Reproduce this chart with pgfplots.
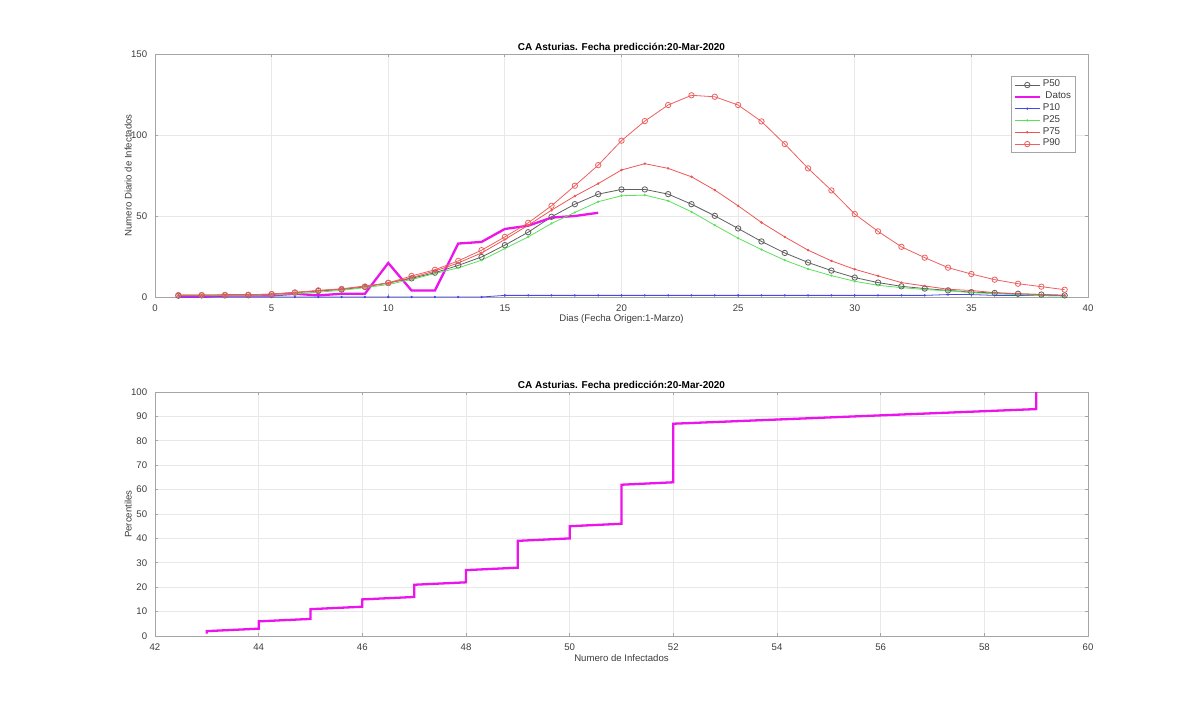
\documentclass[border=0pt]{standalone}
\usepackage{pgfplots}
\pgfplotsset{compat=1.18}
\usepackage{fontspec}
\setmainfont{Liberation Sans}

\definecolor{axline}{RGB}{165,165,165}
\definecolor{gridc}{RGB}{232,232,232}
\definecolor{ticktxt}{RGB}{60,60,60}
\definecolor{cP50}{RGB}{95,95,95}
\definecolor{cP10}{RGB}{70,70,235}
\definecolor{cP25}{RGB}{90,225,90}
\definecolor{cP75}{RGB}{238,85,85}
\definecolor{cP90}{RGB}{238,95,95}
\definecolor{cDat}{RGB}{235,20,235}

\pgfplotsset{
  matstyle/.style={
    scale only axis,
    width=466.5pt,
    axis line style={axline, line width=0.45pt},
    grid=major,
    major grid style={gridc, line width=0.4pt},
    tick style={axline, line width=0.4pt},
    major tick length=1.6pt,
    tick align=inside,
    xtick pos=both, ytick pos=both,
    /pgf/number format/assume math mode=true,
    tick label style={font=\fontsize{4.8}{5.5}\selectfont, text=ticktxt},
    label style={font=\fontsize{4.8}{5.5}\selectfont, text=ticktxt},
    every axis title shift=0pt,
    title style={font=\bfseries\fontsize{5}{6}\selectfont, at={(axis description cs:0.5,1)}, anchor=base, yshift=2pt, inner sep=0pt},
    xlabel style={at={(axis description cs:0.5,0)}, anchor=center, yshift=-11pt, inner sep=0pt},
    ylabel style={at={(axis description cs:-0.0245,0.5)}, anchor=south, inner sep=0pt},
    xticklabel style={yshift=-0.6pt},
    yticklabel style={xshift=-0.4pt},
  },
  legend image code/.code={\draw[mark repeat=2,mark phase=2,#1] plot coordinates {(0cm,0cm)(0.22cm,0cm)(0.44cm,0cm)};},
}

% Percentile curves of the daily number of infected (day 1 = 1 March)
\pgfplotstableread{
x  P50   P10  P25   P75   P90
1  0.8   0    0.8   1.2   1.2
2  1.0   0    0.8   1.2   1.2
3  1.0   0    0.9   1.2   1.3
4  1.1   0    1.0   1.3   1.4
5  1.7   0    1.3   1.8   1.8
6  2.7   0    2.0   2.8   2.8
7  3.7   0    3.0   3.9   4.1
8  4.6   0    4.1   5.0   5.0
9  6.2   0    5.8   6.8   6.5
10 8.7   0    7.7   8.5   8.7
11 11.5  0    10.8  12.0  13.0
12 15.0  0    14.5  16.0  16.8
13 19.5  0    18.0  21.0  22.3
14 24.7  0    22.7  27.2  28.9
15 32.0  1    29.9  35.5  37.1
16 40.0  1    37.1  44.3  45.8
17 49.5  1    45.4  53.6  56.3
18 57.3  1    52.2  62.3  68.7
19 63.5  1    58.8  70.0  81.4
20 66.4  1    62.5  78.4  96.5
21 66.4  1    62.9  82.3  108.6
22 63.5  1    59.4  79.4  118.5
23 57.3  1    52.6  74.2  124.5
24 50.1  1    44.3  66.0  123.6
25 42.3  1    36.3  56.3  118.5
26 34.3  1    29.3  46.0  108.4
27 27.2  1    22.7  37.1  94.4
28 21.3  1    17.3  28.9  79.4
29 16.3  1    13.2  22.3  65.8
30 12.0  1    9.7   17.1  51.2
31 8.9   1    7.2   13.0  40.5
32 6.6   1    5.8   8.9   31.0
33 5.2   1    4.6   6.8   24.3
34 4.1   1.5  3.8   4.8   18.1
35 3.0   1.5  2.7   4.0   14.2
36 2.5   1    2.0   2.7   10.7
37 2.0   1    1.5   2.0   8.2
38 1.5   1    0.8   1.5   6.4
39 1.0   1    0.5   1.0   4.5
}\curvas

% Observed daily cases
\pgfplotstableread{
x  y
1  0
2  0
3  1
4  1
5  1
6  2
7  1
8  2
9  2
10 21
11 4
12 4
13 33
14 34
15 42
16 44
17 49
18 50
19 52
}\datos

% Percentile of the total number of infected
\pgfplotstableread{
x  y
43 1
43 2
44 3
44 6
45 7
45 11
46 12
46 15
47 16
47 21
48 22
48 27
49 28
49 39
50 40
50 45
51 46
51 62
52 63
52 87
59 93
59 100
}\percent

\begin{document}
\begin{tikzpicture}
\useasboundingbox (0,0) rectangle (600pt,357pt);

\begin{axis}[matstyle,
  at={(77.5pt,208.5pt)}, anchor=south west,
  height=121.5pt,
  xmin=0, xmax=40, ymin=0, ymax=150,
  xtick={0,5,...,40}, ytick={0,50,100,150},
  title={CA Asturias. Fecha predicción:20-Mar-2020},
  xlabel={Dias (Fecha Origen:1-Marzo)},
  ylabel={Numero Diario de Infectados},
  legend style={at={(axis description cs:0.987,0.909)}, anchor=north east,
    draw=axline, line width=0.4pt, fill=white,
    font=\fontsize{4.9}{5.6}\selectfont, text=ticktxt,
    inner xsep=1.3pt, inner ysep=0.9pt, row sep=-0.8pt,
    nodes={inner sep=0.9pt}},
  legend cell align=left,
]
\addplot[cP50, line width=0.4pt, mark=o, mark size=1.35pt] table[x=x,y=P50] {\curvas};
\addlegendentry{P50}
\addplot[cDat, line width=1.15pt] table[x=x,y=y] {\datos};
\addlegendentry{\ Datos}
\addplot[cP10, line width=0.4pt, mark=*, mark size=0.35pt] table[x=x,y=P10] {\curvas};
\addlegendentry{P10}
\addplot[cP25, line width=0.4pt, mark=*, mark size=0.35pt] table[x=x,y=P25] {\curvas};
\addlegendentry{P25}
\addplot[cP75, line width=0.4pt, mark=*, mark size=0.4pt] table[x=x,y=P75] {\curvas};
\addlegendentry{P75}
\addplot[cP90, line width=0.4pt, mark=o, mark size=1.35pt] table[x=x,y=P90] {\curvas};
\addlegendentry{P90}
\end{axis}

\begin{axis}[matstyle,
  at={(77.5pt,39pt)}, anchor=south west,
  height=122pt,
  xmin=42, xmax=60, ymin=0, ymax=100,
  xtick={42,44,...,60}, ytick={0,10,...,100},
  title={CA Asturias. Fecha predicción:20-Mar-2020},
  xlabel={Numero de Infectados},
  ylabel={Percentiles},
]
\addplot[cDat, line width=1.15pt] table[x=x,y=y] {\percent};
\end{axis}
\end{tikzpicture}
\end{document}
